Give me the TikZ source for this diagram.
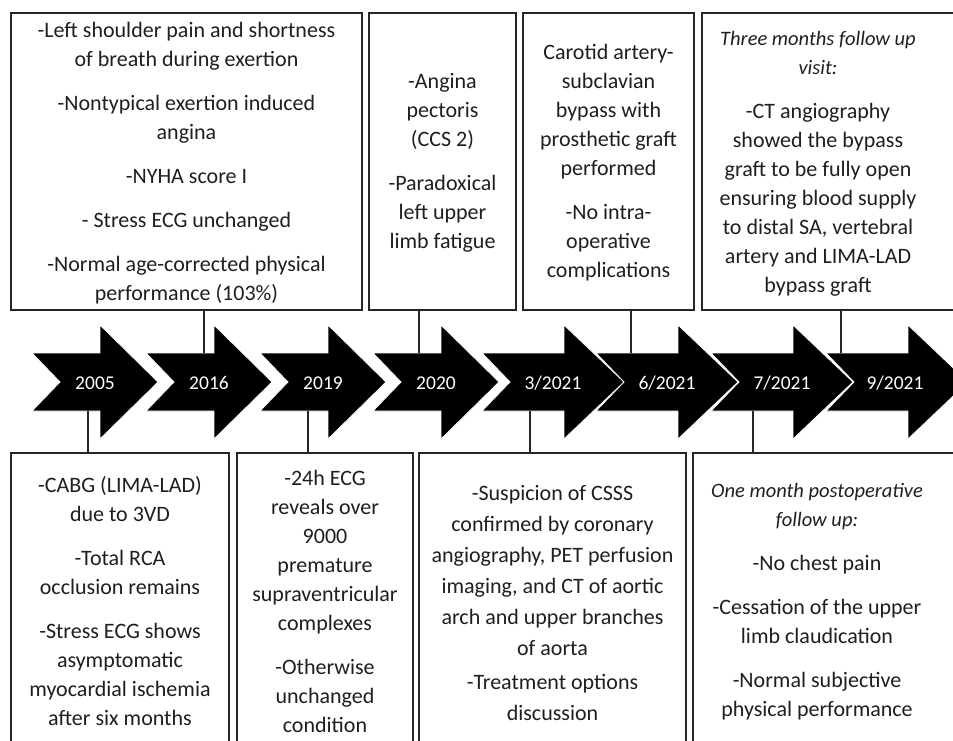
\documentclass[tikz,border=0pt]{standalone}
\usepackage{fontspec}
\setmainfont{Carlito}
\tikzset{
  boxframe/.style={draw=black!85, line width=1.5pt, fill=none, inner sep=0pt},
  txt/.style={align=center, inner sep=0pt, text=black!88, font=\fontsize{22}{29}\selectfont},
  lbl/.style={text=white, inner sep=0pt, anchor=base, font=\fontsize{19.5}{21}\selectfont},
  conn/.style={draw=black!85, line width=1.5pt},
  arr/.style={fill=black, draw=white, line width=0.8pt, line join=miter}
}
\newcommand\itl{\fontsize{20.5}{29}\selectfont\itshape}
\newcommand\tlarrow[3]{% tail x, total length, body length
  \path[arr] (#1,353) -- (#1+#3,353) -- (#1+#3,325) -- (#1+#2,382) -- (#1+#3,439)
    -- (#1+#3,411) -- (#1,411) -- (#1+28,382) -- cycle;}
\begin{document}
\begin{tikzpicture}[x=1pt,y=-1pt]
\useasboundingbox (0,0) rectangle (953,740);
\fill[white] (0,0) rectangle (953,740);

% timeline arrows
\tlarrow{32}{126}{68}
\tlarrow{146}{126}{68}
\tlarrow{260}{126}{68}
\tlarrow{373}{126}{68}
\tlarrow{482}{142}{82}
\tlarrow{596}{142}{82}
\tlarrow{711}{142}{82}
\tlarrow{826}{142}{82}

\node[lbl] (l1) at (95,389) {2005};
\node[lbl] (l2) at (209,389) {2016};
\node[lbl] (l3) at (323,389) {2019};
\node[lbl] (l4) at (436,389) {2020};
\node[lbl] (l5) at (553,389) {3/2021};
\node[lbl] (l6) at (667,389) {6/2021};
\node[lbl] (l7) at (782,389) {7/2021};
\node[lbl] (l8) at (895,389) {9/2021};

% top boxes
\node[boxframe, minimum width=351pt, minimum height=297pt] (bA) at (186.5,161.5) {};
\node[boxframe, minimum width=147pt, minimum height=297pt] (bB) at (442.5,161.5) {};
\node[boxframe, minimum width=171pt, minimum height=297pt] (bC) at (608.5,161.5) {};
\node[boxframe, minimum width=280pt, minimum height=297pt] (bD) at (842,161.5) {};

% bottom boxes
\node[boxframe, minimum width=218pt, minimum height=320pt] (bE) at (120,613) {};
\node[boxframe, minimum width=176pt, minimum height=320pt] (bF) at (325,613) {};
\node[boxframe, minimum width=267pt, minimum height=320pt] (bG) at (552.5,613) {};
\node[boxframe, minimum width=280pt, minimum height=320pt] (bH) at (833,613) {};

% texts
\node[txt] (tA) at (186.5,163.5) {-Left shoulder pain and shortness\\ of breath during exertion\\[15pt]
 -Nontypical exertion induced\\ angina\\[15pt] -NYHA score I\\[15pt] - Stress ECG unchanged\\[15pt]
 -Normal age-corrected physical\\ performance (103\%)};
\node[txt] (tB) at (442.5,163) {-Angina\\ pectoris\\ (CCS 2)\\[15pt] -Paradoxical\\ left upper\\ limb fatigue};
\node[txt] (tC) at (608.5,163) {Carotid artery-\\ subclavian\\ bypass with\\ prosthetic graft\\ performed\\[15pt]
 -No intra-\\ operative\\ complications};
\node[txt] (tD) at (818,163.5) {{\itl Three months follow up}\\ {\itl visit:}\\[15pt] -CT angiography\\
 showed the bypass\\ graft to be fully open\\ ensuring blood supply\\ to distal SA, vertebral\\
 artery and LIMA-LAD\\ bypass graft};
\node[txt] (tE) at (120,601.5) {-CABG (LIMA-LAD)\\ due to 3VD\\[15pt] -Total RCA\\ occlusion remains\\[15pt]
 -Stress ECG shows\\ asymptomatic\\ myocardial ischemia\\ after six months};
\node[txt] (tF) at (325,601) {-24h ECG\\ reveals over\\ 9000\\ premature\\ supraventricular\\ complexes\\[15pt]
 -Otherwise\\ unchanged\\ condition};
\node[txt, font=\fontsize{22}{31}\selectfont] (tG) at (552.5,602.5) {-Suspicion of CSSS\\ confirmed by coronary\\
 angiography, PET perfusion\\ imaging, and CT of aortic\\ arch and upper branches\\ of aorta\\[3pt]
 -Treatment options\\ discussion};
\node[txt] (tH) at (817,602) {{\itl One month postoperative}\\ {\itl follow up:}\\[15pt] -No chest pain\\[15pt]
 -Cessation of the upper\\ limb claudication\\[15pt] -Normal subjective\\ physical performance};

% connectors
\coordinate (cA) at (204,353);
\coordinate (cB) at (419,353);
\coordinate (cC) at (631,353);
\coordinate (cD) at (841,353);
\coordinate (cE) at (88,411);
\coordinate (cF) at (308,411);
\coordinate (cG) at (530,411);
\coordinate (cH) at (753,411);
\draw[conn] (cA |- bA.south) -- (cA);
\draw[conn] (cB |- bB.south) -- (cB);
\draw[conn] (cC |- bC.south) -- (cC);
\draw[conn] (cD |- bD.south) -- (cD);
\draw[conn] (cE) -- (cE |- bE.north);
\draw[conn] (cF) -- (cF |- bF.north);
\draw[conn] (cG) -- (cG |- bG.north);
\draw[conn] (cH) -- (cH |- bH.north);
\end{tikzpicture}
\end{document}
